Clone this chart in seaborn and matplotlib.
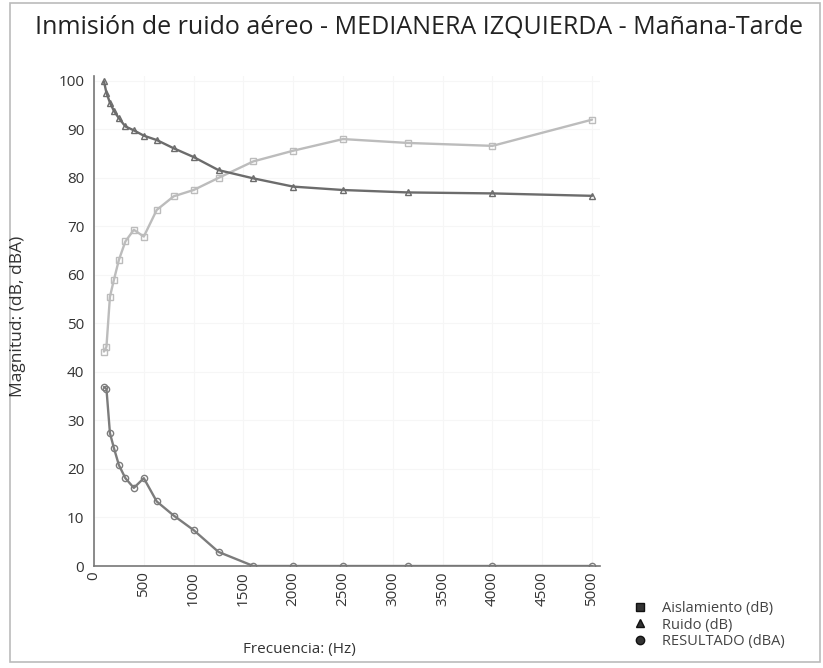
import matplotlib
matplotlib.use("Agg")
import matplotlib.pyplot as plt
import seaborn as sns
import pandas as pd
from matplotlib.patches import Rectangle
from matplotlib.lines import Line2D

# Frecuencias de tercio de octava (Hz)
frecuencias = [100, 125, 160, 200, 250, 315, 400, 500, 630, 800, 1000,
               1250, 1600, 2000, 2500, 3150, 4000, 5000]

aislamiento = [44.2, 45.2, 55.5, 59.0, 63.1, 66.9, 69.3, 67.9, 73.4, 76.2, 77.5,
               80.0, 83.4, 85.6, 88.0, 87.2, 86.6, 92.0]
ruido = [99.9, 97.5, 95.5, 93.8, 92.3, 90.6, 89.8, 88.7, 87.8, 86.1, 84.3,
         81.6, 79.9, 78.2, 77.5, 77.0, 76.8, 76.3]
resultado = [36.9, 36.5, 27.4, 24.3, 20.8, 18.1, 16.1, 18.1, 13.3, 10.4, 7.4,
             2.9, 0.0, 0.0, 0.0, 0.0, 0.0, 0.0]

series = ["Aislamiento (dB)", "Ruido (dB)", "RESULTADO (dBA)"]
colores = ["#bcbcbc", "#6c6c6c", "#7c7c7c"]
marcadores = ["s", "^", "o"]

df = pd.DataFrame({
    "freq": frecuencias * 3,
    "valor": aislamiento + ruido + resultado,
    "serie": [series[0]] * len(frecuencias) + [series[1]] * len(frecuencias)
             + [series[2]] * len(frecuencias),
})

sns.set_style("white")
plt.rcParams["font.family"] = ["Open Sans", "DejaVu Sans"]

fig = plt.figure(figsize=(8.23, 6.68), dpi=100)
ax = fig.add_axes([94 / 823, 1 - 566 / 668, 506 / 823, 490 / 668])

for nombre, col, mk in zip(series, colores, marcadores):
    sub = df[df["serie"] == nombre]
    sns.lineplot(data=sub, x="freq", y="valor", ax=ax, color=col, linewidth=1.7,
                 marker=mk, markersize=4.5, markerfacecolor="none",
                 markeredgecolor=col, markeredgewidth=1.0, legend=False)

ax.set_xlim(0, 5080)
ax.set_ylim(0, 101)
ax.set_xticks(range(0, 5001, 500))
ax.set_yticks(range(0, 101, 10))
ax.tick_params(axis="x", labelrotation=90, labelsize=11, length=0, pad=4,
               colors="#333333")
ax.tick_params(axis="y", labelsize=11, length=0, pad=7, colors="#333333")
ax.grid(True, color="#f6f6f6", linewidth=0.8)
for s in ["top", "right"]:
    ax.spines[s].set_visible(False)
for s in ["left", "bottom"]:
    ax.spines[s].set_color("#777777")
    ax.spines[s].set_linewidth(1.2)

ax.set_xlabel("")
ax.set_ylabel("")
fig.text(18 / 823, 1 - 316 / 668, "Magnitud: (dB, dBA)", rotation=90,
         ha="center", va="center", fontsize=12.5, color="#333333")
fig.text(299 / 823, 1 - 650 / 668, "Frecuencia: (Hz)", ha="center",
         va="center", fontsize=11, color="#333333")
fig.text(35 / 823, 1 - 28 / 668,
         "Inmisión de ruido aéreo - MEDIANERA IZQUIERDA - Mañana-Tarde",
         ha="left", va="center", fontsize=18, color="#222222")

handles = [Line2D([], [], linestyle="none", marker=mk, markersize=6,
                  markerfacecolor="#333333", markeredgecolor="#111111")
           for mk in marcadores]
fig.legend(handles, series, loc="upper left",
           bbox_to_anchor=(620 / 823, 1 - 588 / 668), frameon=False,
           fontsize=10.5, handlelength=1.0, handletextpad=1.0,
           labelspacing=0.1, labelcolor="#444444")

fig.add_artist(Rectangle((10 / 823, 6 / 668), 810 / 823, 659 / 668,
                         transform=fig.transFigure, fill=False,
                         edgecolor="#bbbbbb", linewidth=1.2))

fig.savefig("out.png", dpi=100)
